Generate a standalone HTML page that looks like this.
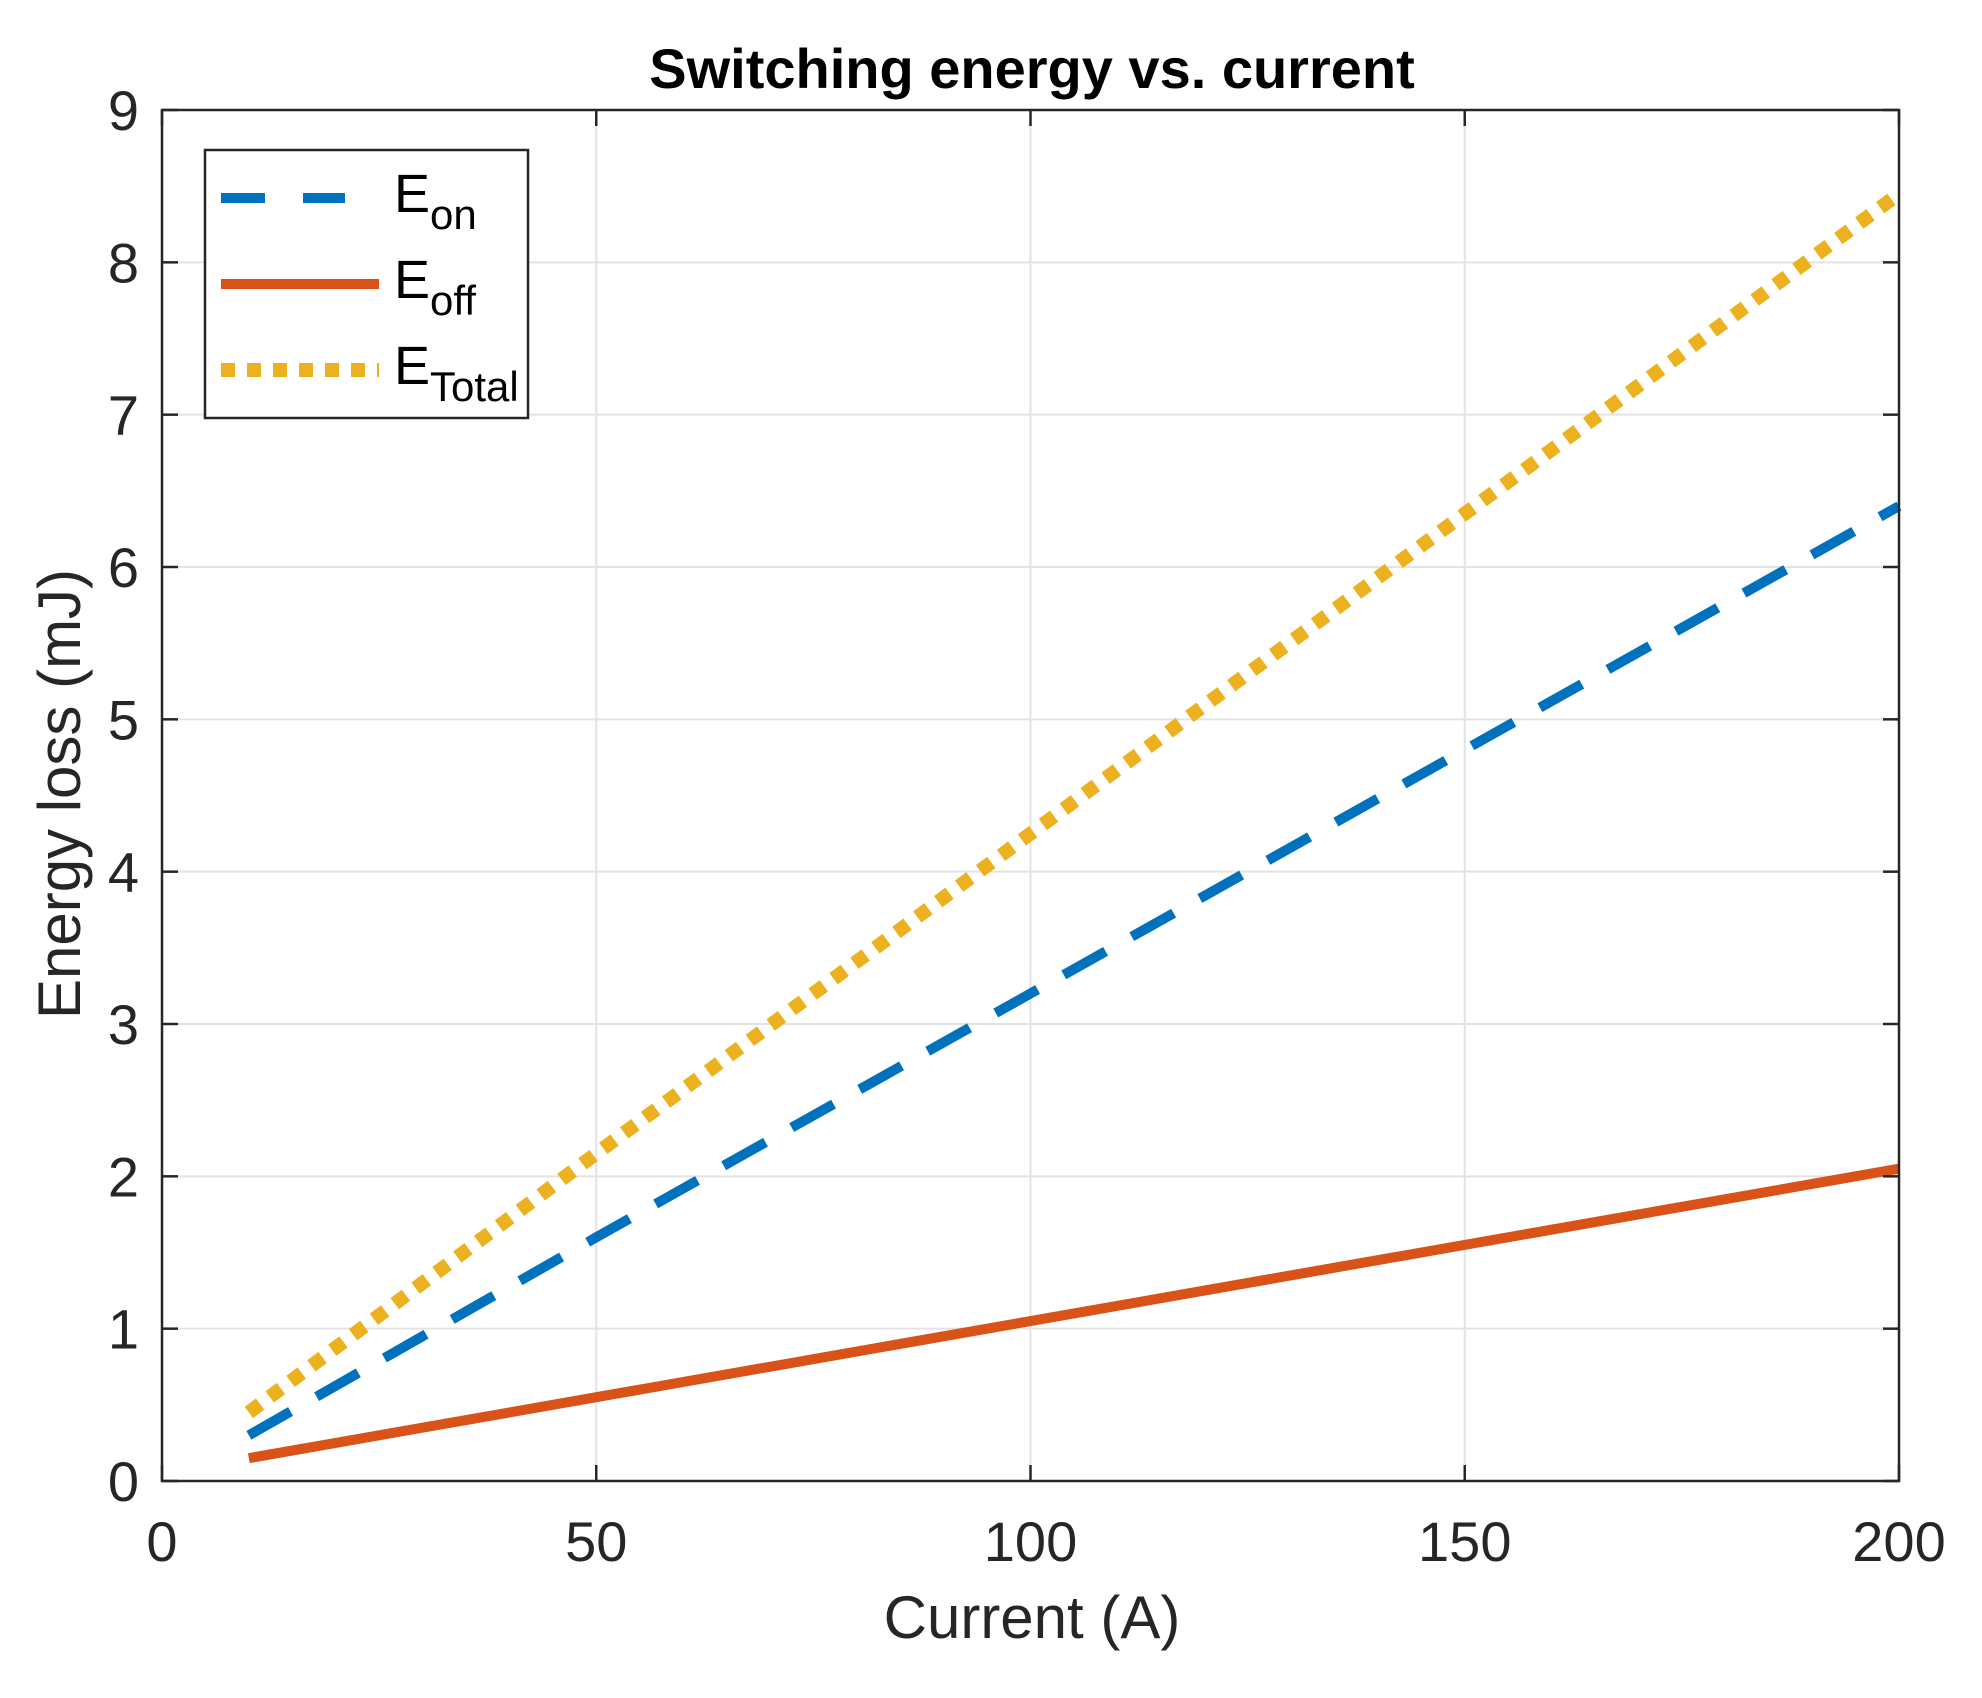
<!DOCTYPE html>
<html><head><meta charset="utf-8"><style>
html,body{margin:0;padding:0;background:#fff;}
svg{display:block;font-family:"Liberation Sans",Arial,sans-serif;}
</style></head><body>
<svg id="chart" width="1982" height="1698" viewBox="0 0 1982 1698" xmlns="http://www.w3.org/2000/svg">
<rect width="1982" height="1698" fill="#fff"/>
<g id="grid"></g>
<g id="series"></g>
<g id="axes"></g>
<text x="1032" y="88" text-anchor="middle" font-size="56" font-weight="bold" fill="#000">Switching energy vs. current</text>
<text x="1032" y="1638" text-anchor="middle" font-size="60" fill="#262626">Current (A)</text>
<text transform="translate(80,794) rotate(-90)" text-anchor="middle" font-size="60" fill="#262626">Energy loss (mJ)</text>
<g>
<rect x="205" y="150" width="323" height="268" fill="#fff" stroke="#262626" stroke-width="2.5"/>
<line x1="221" y1="198" x2="345" y2="198" stroke="#0072BD" stroke-width="10" stroke-dasharray="44 38"/>
<text x="394" y="212" font-size="54" fill="#000">E<tspan font-size="42" dy="17">on</tspan></text>
<line x1="221" y1="284" x2="379" y2="284" stroke="#D95319" stroke-width="10"/>
<text x="394" y="298" font-size="54" fill="#000">E<tspan font-size="42" dy="17">off</tspan></text>
<line x1="221" y1="370" x2="379" y2="370" stroke="#EDB120" stroke-width="14" stroke-dasharray="14 12"/>
<text x="394" y="384" font-size="54" fill="#000">E<tspan font-size="42" dy="17">Total</tspan></text>
</g>
</svg>
<script>
const current = [10, 50, 100, 150, 200];
const eon = [0.3, 1.6, 3.2, 4.8, 6.4];
const eoff = [0.15, 0.55, 1.05, 1.55, 2.05];
const etotal = [0.45, 2.15, 4.25, 6.35, 8.45];
const xTicks = [0, 50, 100, 150, 200];
const yTicks = [0, 1, 2, 3, 4, 5, 6, 7, 8, 9];

const L=162,R=1899,T=110,B=1481;
const X=v=>L+(v-0)/(200-0)*(R-L);
const Y=v=>B-(v-0)/(9-0)*(B-T);
const NS="http://www.w3.org/2000/svg";
function mk(tag,parent,attrs){const e=document.createElementNS(NS,tag);for(const k in attrs)e.setAttribute(k,attrs[k]);parent.appendChild(e);return e;}
const grid=document.getElementById('grid'),axes=document.getElementById('axes'),series=document.getElementById('series');

xTicks.forEach(t=>{
  const g=mk('line',grid,{x1:X(t),x2:X(t),y1:T,y2:B,stroke:'#e3e3e3','stroke-width':2});
  
  
  const tk=mk('line',axes,{x1:X(t),x2:X(t),y1:B,y2:B-16,stroke:'#262626','stroke-width':2.5});
  
  
  const tk2=mk('line',axes,{x1:X(t),x2:X(t),y1:T,y2:T+16,stroke:'#262626','stroke-width':2.5});
  
  
  const lb=mk('text',axes,{x:X(t),y:1561,'text-anchor':'middle','font-size':56,fill:'#262626'});
  lb.textContent=t;
  
  
});
yTicks.forEach(t=>{
  const g=mk('line',grid,{x1:L,x2:R,y1:Y(t),y2:Y(t),stroke:'#e3e3e3','stroke-width':2});
  
  
  const tk=mk('line',axes,{x1:L,x2:L+16,y1:Y(t),y2:Y(t),stroke:'#262626','stroke-width':2.5});
  
  
  const tk2=mk('line',axes,{x1:R,x2:R-16,y1:Y(t),y2:Y(t),stroke:'#262626','stroke-width':2.5});
  
  
  const lb=mk('text',axes,{x:139,y:Y(t)+20,'text-anchor':'end','font-size':56,fill:'#262626'});
  lb.textContent=t;
  
  
});
const frame=mk('rect',axes,{x:L,y:T,width:R-L,height:B-T,fill:'none',stroke:'#262626','stroke-width':2.5});



function path(vals){return vals.map((v,i)=>(i?'L':'M')+X(current[i])+','+Y(v)).join(' ');}
const pTot=mk('path',series,{d:path(etotal),fill:'none',stroke:'#EDB120','stroke-width':14,'stroke-dasharray':'14 12'});


const pOn=mk('path',series,{d:path(eon),fill:'none',stroke:'#0072BD','stroke-width':10,'stroke-dasharray':'48 30'});


const pOff=mk('path',series,{d:path(eoff),fill:'none',stroke:'#D95319','stroke-width':10});


</script>
</body></html>
